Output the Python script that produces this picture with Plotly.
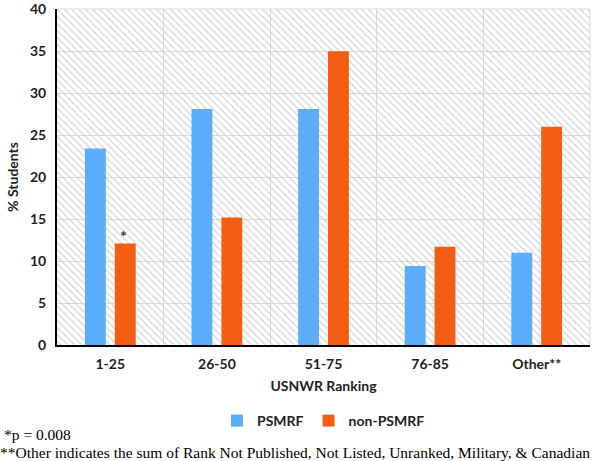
import plotly.graph_objects as go

categories = ["1-25", "26-50", "51-75", "76-85", "Other**"]
psmrf = [23.4, 28.1, 28.1, 9.4, 11.0]
non_psmrf = [12.1, 15.2, 35.0, 11.7, 26.0]
y_ticks = [0, 5, 10, 15, 20, 25, 30, 35, 40]

FONT = "Lato"
W, H = 600, 461
L, R, T, B = 57, 10, 9, 116
pw = W - L - R
ph = H - T - B

fig = go.Figure()

# hatched plot background on base axes
fig.add_trace(go.Bar(
    x=[2.5], y=[40], width=[5], xaxis="x", yaxis="y",
    marker=dict(color="rgba(0,0,0,0)", line=dict(width=0),
                pattern=dict(shape="\\", fgcolor="#d4d4d4", bgcolor="rgba(0,0,0,0)",
                             size=5, solidity=0.25, fillmode="replace")),
    showlegend=False, hoverinfo="skip",
))

fig.add_trace(go.Bar(
    x=categories, y=psmrf, name="PSMRF", xaxis="x2", yaxis="y",
    marker=dict(color="#5BADF9", line=dict(width=0)),
))
fig.add_trace(go.Bar(
    x=categories, y=non_psmrf, name="non-PSMRF", xaxis="x2", yaxis="y",
    marker=dict(color="#F45E14", line=dict(width=0)),
))

fig.update_layout(
    width=W, height=H,
    margin=dict(l=L, r=R, t=T, b=B),
    paper_bgcolor="white", plot_bgcolor="white",
    barmode="group", bargap=0.44, bargroupgap=0.3,
    font=dict(family=FONT, color="#222222"),
    xaxis=dict(range=[0, 5], showticklabels=False, showgrid=True, dtick=1, tick0=0,
               gridcolor="#d9d9d9", gridwidth=1, zeroline=False, ticks="",
               showline=False, automargin=False),
    xaxis2=dict(overlaying="x", type="category", showgrid=False, zeroline=False,
                showline=True, linecolor="black", linewidth=2, ticks="",
                ticklabelstandoff=5, automargin=False,
                tickfont=dict(family=FONT, size=14, color="#222222", weight="bold"),
                title=dict(text="<b>USNWR Ranking</b>", font=dict(family=FONT, size=14, color="#222222"),
                           standoff=10)),
    yaxis=dict(range=[0, 40.02], tickvals=y_ticks, showgrid=True, gridcolor="#d9d9d9", gridwidth=1,
               zeroline=False, showline=True, linecolor="black", linewidth=2, ticks="",
               ticklabelstandoff=6, ticklabeloverflow="allow", automargin=False,
               tickfont=dict(family=FONT, size=14, color="#222222", weight="bold"),
               title=dict(text="<b>% Students</b>", font=dict(family=FONT, size=14, color="#222222"),
                          standoff=8)),
    legend=dict(orientation="h", x=0.5, xanchor="center", y=(345 - 421) / ph, yanchor="middle",
                font=dict(family=FONT, size=14, color="#222222", weight="bold"),
                itemwidth=30, traceorder="normal"),
)

# right and top border lines of the grid
fig.add_shape(type="line", xref="paper", yref="paper", x0=1, x1=1, y0=0, y1=1,
              line=dict(color="#d9d9d9", width=1))
fig.add_shape(type="line", xref="paper", yref="paper", x0=0, x1=1, y0=1, y1=1,
              line=dict(color="#d9d9d9", width=1))

# significance asterisk
fig.add_annotation(x=0.5, y=non_psmrf[0], xref="x", yref="y", text="<b>*</b>", showarrow=False,
                   xshift=13, yanchor="bottom", yshift=-4,
                   font=dict(family=FONT, size=16, color="#333333"))

fig.add_annotation(x=-L / pw, y=(345 - 434) / ph, xref="paper", yref="paper", xanchor="left",
                   yanchor="middle", text="*p = 0.008", showarrow=False, xshift=2,
                   font=dict(family="Liberation Serif", size=15.5, color="black"))
fig.add_annotation(x=-L / pw, y=(345 - 452) / ph, xref="paper", yref="paper", xanchor="left",
                   yanchor="middle", text="**Other indicates the sum of Rank Not Published, Not Listed, Unranked, Military, &amp; Canadian",
                   showarrow=False, xshift=-2,
                   font=dict(family="Liberation Serif", size=15.5, color="black"))

fig.write_html("out.html", config={"displayModeBar": False},
               post_script="document.body.style.margin='0';document.body.style.padding='0';")
